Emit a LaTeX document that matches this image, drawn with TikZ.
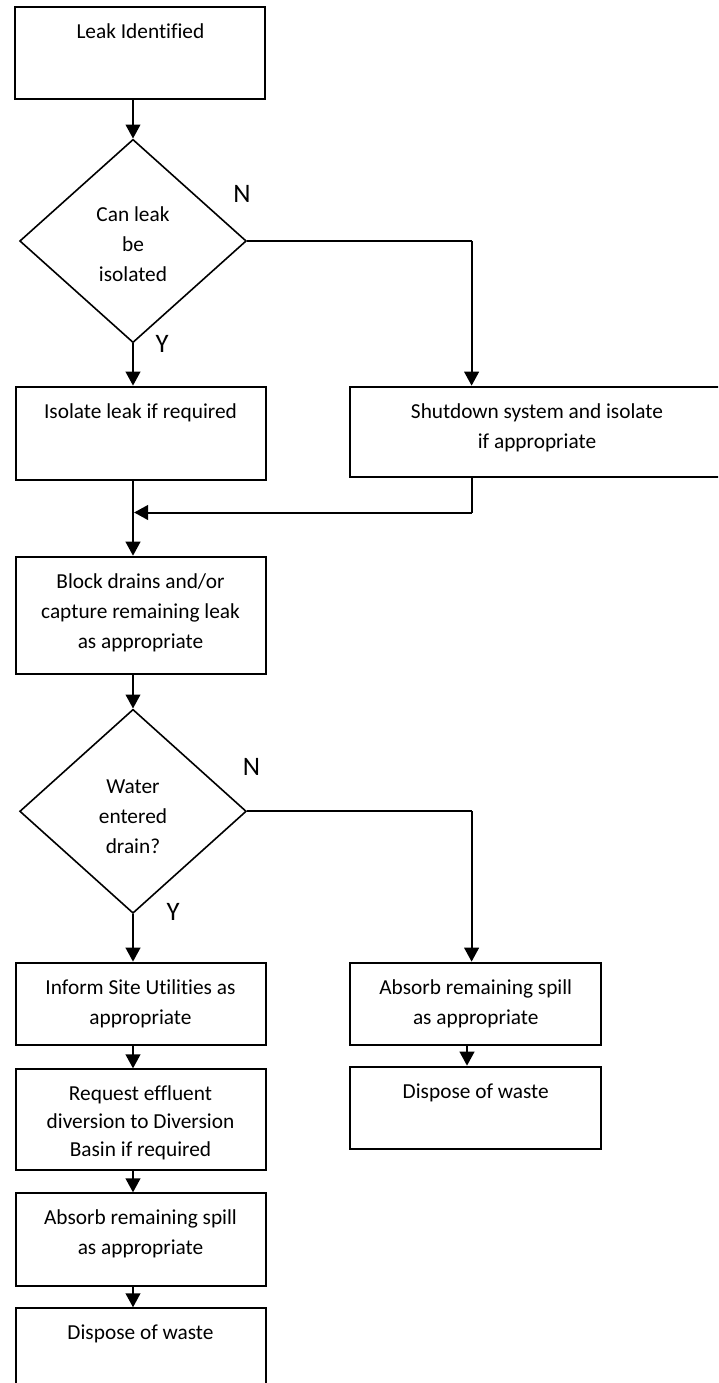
\documentclass[tikz,border=0pt]{standalone}
\usepackage{fontspec}
\setmainfont{Carlito}[Ligatures=NoCommon]
\usetikzlibrary{arrows.meta,shapes.geometric,calc}
\begin{document}
\begin{tikzpicture}[x=0.75pt,y=-0.75pt,
  box/.style={draw, line width=1.5pt, rectangle, inner sep=0pt, minimum width=187.5pt},
  choice/.style={draw, line width=1.2pt, diamond, inner sep=0pt, minimum width=170pt,
    minimum height=152.5pt},
  words/.style={anchor=base, align=center, inner sep=0pt, font=\fontsize{16}{22.5}\selectfont},
  yn/.style={font=\fontsize{20}{24}\selectfont, inner sep=0pt},
  flow/.style={line width=1.5pt, -{Triangle[width=11pt,length=10.5pt]}},
  link/.style={line width=1.5pt}
]
\clip (0,0) rectangle (718,1383);

% left column
\node[box, minimum height=69.2pt] (start) at (140.4,52.8) {};
\node[choice] (q1) at (133,241) {};
\node[box, minimum height=70pt] (iso) at (140.5,433.3) {};
\node[box, minimum height=88.2pt] (block) at (140.5,615.5) {};
\node[choice, minimum height=153pt] (q2) at (133,811.3) {};
\node[box, minimum height=62pt] (inform) at (140.5,1004) {};
\node[box, minimum height=75.5pt] (req) at (140.5,1119.7) {};
\node[box, minimum height=69.5pt] (absL) at (140.5,1239.7) {};
\node[box, minimum height=75pt] (dispL) at (140.5,1358.3) {};

% right column
\node[box, minimum width=280pt, minimum height=67.7pt] (shut) at (537,431.8) {};
\node[box, minimum width=188.2pt, minimum height=62pt] (absR) at (475.75,1004) {};
\node[box, minimum width=188.2pt, minimum height=61.7pt] (dispR) at (475.75,1107.8) {};

% texts (base anchor sits on the last line)
\node[words] (tq1) at ($(q1.center)+(0,41)$) {Can leak\\be\\isolated};
\node[words] (tq2) at ($(q2.center)+(0,41.7)$) {Water\\entered\\drain?};
\node[words] (tstart) at ($(start.north)+(0,32.5)$) {Leak Identified};
\node[words] (tiso) at ($(iso.north)+(0,32.5)$) {Isolate leak if required};
\node[words] (tshut) at ($(shut.north)+(0,62.5)$) {Shutdown system and isolate\\if appropriate};
\node[words] (tblock) at ($(block.north)+(0,92.5)$) {Block drains and/or\\capture remaining leak\\as appropriate};
\node[words] (tinform) at ($(inform.north)+(0,62.5)$) {Inform Site Utilities as\\appropriate};
\node[words, font=\fontsize{16}{20.8}\selectfont] (treq) at ($(req.north)+(0,87.9)$) {Request effluent\\diversion to Diversion\\Basin if required};
\node[words] (tabsL) at ($(absL.north)+(0,62.5)$) {Absorb remaining spill\\as appropriate};
\node[words] (tdispL) at ($(dispL.north)+(0,32.5)$) {Dispose of waste};
\node[words] (tabsR) at ($(absR.north)+(0,62.5)$) {Absorb remaining spill\\as appropriate};
\node[words] (tdispR) at ($(dispR.north)+(0,32.5)$) {Dispose of waste};

% yes / no labels
\node[yn] (n1) at (242,194) {N};
\node[yn] (y1) at (162,344) {Y};
\node[yn] (n2) at (251.5,766.7) {N};
\node[yn] (y2) at (173,912) {Y};

% routing points
\coordinate (r1) at (471.6,241);
\coordinate (m1) at (471.6,512.5);
\coordinate (r2) at (471.6,811.3);
\coordinate (r3) at (467,1050);

% connectors
\draw[flow] (start.south -| q1.north) -- (q1.north);
\draw[flow] (q1.south) -- (iso.north -| q1.south);
\draw[link] (q1.east) -- (r1);
\draw[flow] (r1) -- (r1 |- shut.north);
\draw[link] (shut.south -| m1) -- (m1);
\draw[flow, shorten >=0.8pt] (m1) -- (m1 -| q1.south);
\draw[flow] (iso.south -| q1.south) -- (block.north -| q1.south);
\draw[flow] (block.south -| q2.north) -- (q2.north);
\draw[flow] (q2.south) -- (inform.north -| q2.south);
\draw[link] (q2.east) -- (r2);
\draw[flow] (r2) -- (r2 |- absR.north);
\draw[flow] (absR.south -| r3) -- (dispR.north -| r3);
\draw[flow] (inform.south -| q2.south) -- (req.north -| q2.south);
\draw[flow] (req.south -| q2.south) -- (absL.north -| q2.south);
\draw[flow] (absL.south -| q2.south) -- (dispL.north -| q2.south);
\end{tikzpicture}
\end{document}
